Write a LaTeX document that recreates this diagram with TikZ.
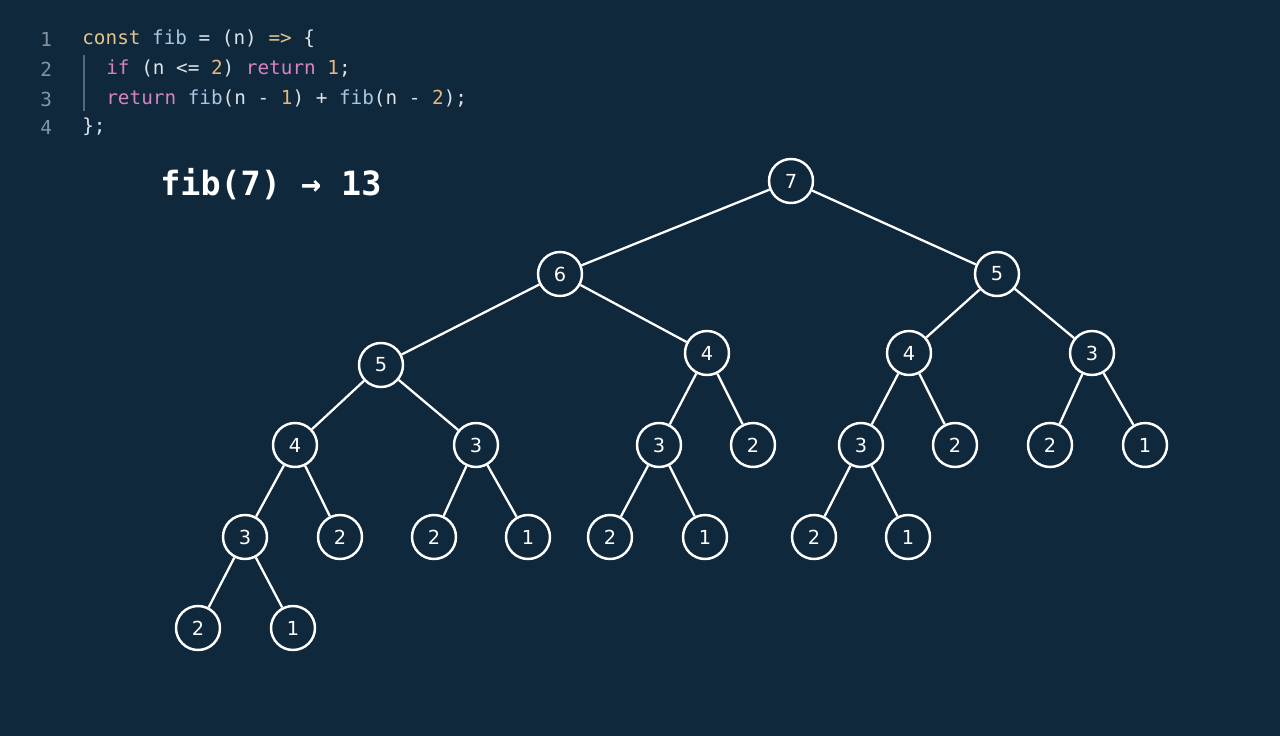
\documentclass[tikz,border=0pt]{standalone}
\usepackage{fontspec}
\setmonofont{DejaVu Sans Mono}
\setsansfont{DejaVu Sans}
\definecolor{bgblue}{HTML}{10283C}
\definecolor{kwyellow}{HTML}{E3C48A}
\definecolor{fnblue}{HTML}{A9C6E2}
\definecolor{kwpink}{HTML}{D683C0}
\definecolor{numorange}{HTML}{E6B77C}
\definecolor{lineno}{HTML}{8693A0}
\definecolor{plain}{HTML}{DCE3EA}

\tikzset{
    call/.style={circle, draw=white, line width=1.4pt, fill=bgblue, text=white,
        minimum size=0.88cm, inner sep=0pt, font=\sffamily\fontsize{11}{11}\selectfont},
    edge/.style={white, line width=1.3pt},
    code/.style={anchor=west, inner sep=0pt, font=\ttfamily\fontsize{11}{11}\selectfont, text=plain}
}

\begin{document}
\begin{tikzpicture}[x=0.02cm, y=-0.02cm]
    % Background
    \fill[bgblue] (0, 0) rectangle (1280, 736);
    \useasboundingbox (0, 0) rectangle (1280, 736);

    % --- Source code (top left)
    \foreach \i/\y in {1/39, 2/69, 3/99, 4/127}
        \node[code, text=lineno] (ln\i) at (40, \y) {\i};
    \node[code] (c1) at (82, 39) {\textcolor{kwyellow}{const} \textcolor{fnblue}{fib} = (n) \textcolor{kwyellow}{=>} \{};
    \node[code] (c2) at (106, 69) {\textcolor{kwpink}{if} (n <= \textcolor{numorange}{2}) \textcolor{kwpink}{return} \textcolor{numorange}{1};};
    \node[code] (c3) at (106, 99) {\textcolor{kwpink}{return} \textcolor{fnblue}{fib}(n - \textcolor{numorange}{1}) + \textcolor{fnblue}{fib}(n - \textcolor{numorange}{2});};
    \node[code] (c4) at (82, 127) {\};};
    % Indent guide
    \draw[lineno!60!bgblue, line width=0.8pt] (84, 55) -- (84, 111);

    % Result
    \node[code, text=white, font=\ttfamily\bfseries\fontsize{19}{19}\selectfont] (res) at (160, 184) {fib(7) → 13};

    % --- Call tree
    \node[call] (n7) at (791, 181) {7};
    \node[call] (n6) at (560, 274) {6};
    \node[call] (m5) at (997, 274) {5};
    \node[call] (n5) at (381, 365) {5};
    \node[call] (n4) at (707, 353) {4};
    \node[call] (m4) at (909, 353) {4};
    \node[call] (m3) at (1092, 353) {3};
    \node[call] (a4) at (295, 445) {4};
    \node[call] (a3) at (476, 445) {3};
    \node[call] (b3) at (659, 445) {3};
    \node[call] (b2) at (753, 445) {2};
    \node[call] (c3n) at (861, 445) {3};
    \node[call] (c2n) at (955, 445) {2};
    \node[call] (d2) at (1050, 445) {2};
    \node[call] (d1) at (1145, 445) {1};
    \node[call] (e3) at (245, 537) {3};
    \node[call] (e2) at (340, 537) {2};
    \node[call] (f2) at (434, 537) {2};
    \node[call] (f1) at (528, 537) {1};
    \node[call] (g2) at (610, 537) {2};
    \node[call] (g1) at (705, 537) {1};
    \node[call] (h2) at (814, 537) {2};
    \node[call] (h1) at (908, 537) {1};
    \node[call] (k2) at (198, 628) {2};
    \node[call] (k1) at (293, 628) {1};

    % Edges
    \foreach \p/\c in {n7/n6, n7/m5, n6/n5, n6/n4, m5/m4, m5/m3,
        n5/a4, n5/a3, n4/b3, n4/b2, m4/c3n, m4/c2n, m3/d2, m3/d1,
        a4/e3, a4/e2, a3/f2, a3/f1, b3/g2, b3/g1, c3n/h2, c3n/h1,
        e3/k2, e3/k1}
        \draw[edge] (\p) -- (\c);
\end{tikzpicture}
\end{document}
